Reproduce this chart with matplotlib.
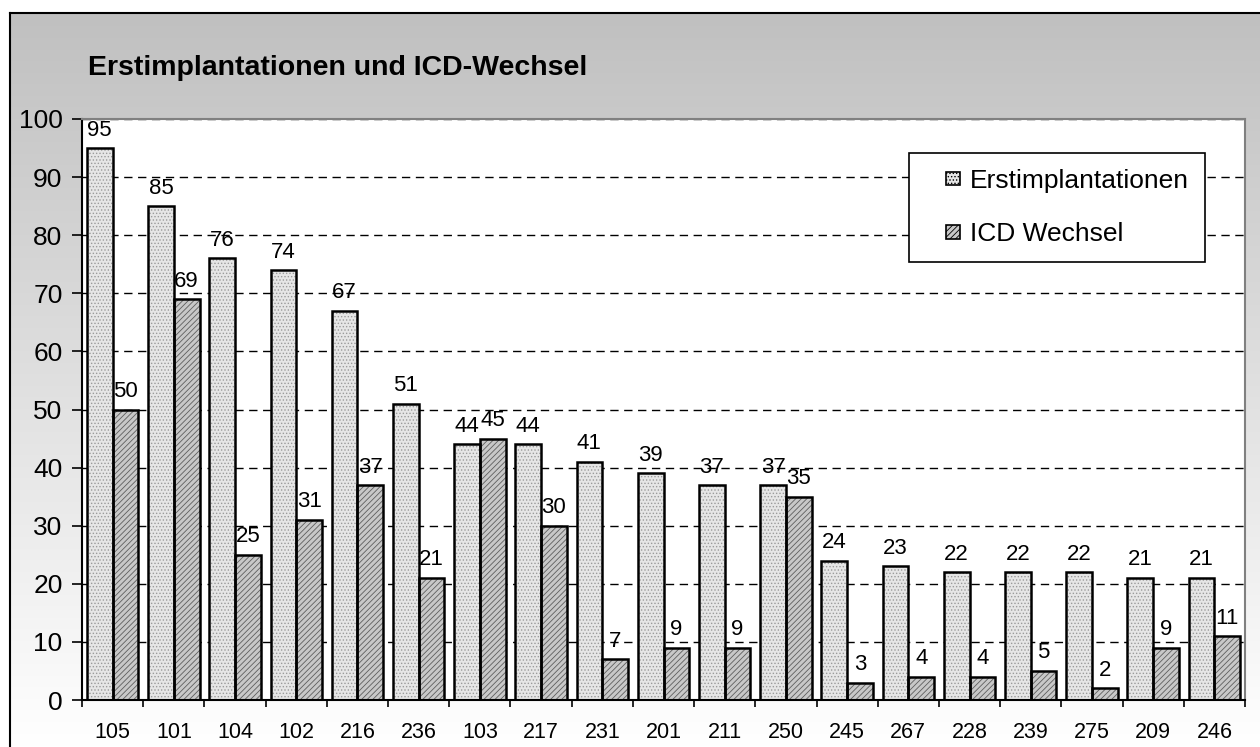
import numpy as np
import matplotlib
matplotlib.use("Agg")
import matplotlib.pyplot as plt
from matplotlib.patches import Rectangle
from matplotlib.legend_handler import HandlerPatch

plt.rcParams['font.family'] = ['Liberation Sans', 'DejaVu Sans']
plt.rcParams['hatch.linewidth'] = 0.6

# data
labels = ['105', '101', '104', '102', '216', '236', '103', '217', '231', '201',
          '211', '250', '245', '267', '228', '239', '275', '209', '246']
erst = [95, 85, 76, 74, 67, 51, 44, 44, 41, 39, 37, 37, 24, 23, 22, 22, 22, 21, 21]
icd = [50, 69, 25, 31, 37, 21, 45, 30, 7, 9, 9, 35, 3, 4, 4, 5, 2, 9, 11]

W, H = 1260, 747
fig = plt.figure(figsize=(W / 100, H / 100), dpi=100)

# gradient background with frame on the left/top
bg = fig.add_axes([10 / W, 0, 1 - 10 / W, 1 - 13 / H])
grad = np.linspace(192, 255, 256).reshape(-1, 1) / 255.0
bg.imshow(np.dstack([grad, grad, grad]), aspect='auto', extent=(0, 1, 0, 1), origin='upper')
bg.set_xticks([])
bg.set_yticks([])
for s in ['right', 'bottom']:
    bg.spines[s].set_visible(False)
for s in ['left', 'top']:
    bg.spines[s].set_linewidth(1.5)
    bg.spines[s].set_color('black')

fig.text(88 / W, 1 - 68 / H, 'Erstimplantationen und ICD-Wechsel',
         fontsize=20.5, fontweight='bold', va='center', ha='left')

ax = fig.add_axes([82 / W, 1 - 700 / H, (1245 - 82) / W, (700 - 119) / H])
ax.set_facecolor('white')

x = np.arange(len(labels))
bw = 0.42

# hatch color follows edgecolor, so draw fill and outline separately
plt.rcParams['hatch.color'] = '#8a8a8a'
b1 = ax.bar(x - bw / 2, erst, bw, color='#e6e6e6', edgecolor='#9a9a9a', hatch='.....', linewidth=0, zorder=2)
b2 = ax.bar(x + bw / 2, icd, bw, color='#c8c8c8', edgecolor='#5e5e5e', hatch='//////', linewidth=0, zorder=2)
ax.bar(x - bw / 2, erst, bw, fill=False, edgecolor='black', linewidth=1.8, zorder=3)
ax.bar(x + bw / 2, icd, bw, fill=False, edgecolor='black', linewidth=1.8, zorder=3)

for xi, v in zip(x, erst):
    ax.annotate(str(v), (xi - bw / 2, v), xytext=(0, 9), textcoords='offset points',
                ha='center', va='baseline', fontsize=16, zorder=4)
for xi, v in zip(x, icd):
    ax.annotate(str(v), (xi + bw / 2, v), xytext=(0, 9), textcoords='offset points',
                ha='center', va='baseline', fontsize=16, zorder=4)

ax.set_xlim(-0.5, len(labels) - 0.5)
ax.set_ylim(0, 100)
ax.set_yticks(range(0, 101, 10))
ax.set_xticks(x)
ax.set_xticklabels(labels)
ax.set_xticks(np.arange(-0.5, len(labels), 1), minor=True)
ax.tick_params(axis='x', which='major', length=0, pad=16, labelsize=15.5)
ax.tick_params(axis='x', which='minor', length=5, width=1.2, direction='out')
ax.tick_params(axis='y', length=7, width=1.2, direction='out', pad=7, labelsize=19)

ax.yaxis.grid(True, linestyle=(0, (6, 4)), color='black', linewidth=1)
ax.set_axisbelow(True)

ax.spines['left'].set_linewidth(1.5)
ax.spines['bottom'].set_linewidth(1.5)
ax.spines['top'].set_color('#808080')
ax.spines['right'].set_color('#808080')
ax.spines['top'].set_linewidth(1.5)
ax.spines['right'].set_linewidth(1.5)


def small_square(legend, orig_handle, xdescent, ydescent, width, height, fontsize):
    s = 0.52 * fontsize
    return Rectangle((-xdescent + width - s, -ydescent + (height - s) / 2), s, s)


h1, h2 = b1.patches[0], b2.patches[0]
leg = ax.legend([h1, h2], ['Erstimplantationen', 'ICD Wechsel'],
                loc='upper left', bbox_to_anchor=(909 / W, 1 - 153 / H),
                bbox_transform=fig.transFigure, borderaxespad=0,
                fontsize=19, frameon=True, fancybox=False, edgecolor='black',
                framealpha=1, handlelength=1.32, handleheight=0.7,
                handletextpad=0.38, labelspacing=1.12, borderpad=0.6,
                handler_map={h1: HandlerPatch(patch_func=small_square),
                             h2: HandlerPatch(patch_func=small_square)})
leg.get_frame().set_linewidth(1.2)
for h in leg.legend_handles:
    h.set_edgecolor('black')
    h.set_linewidth(1.2)

plt.savefig('out.png', dpi=100)
